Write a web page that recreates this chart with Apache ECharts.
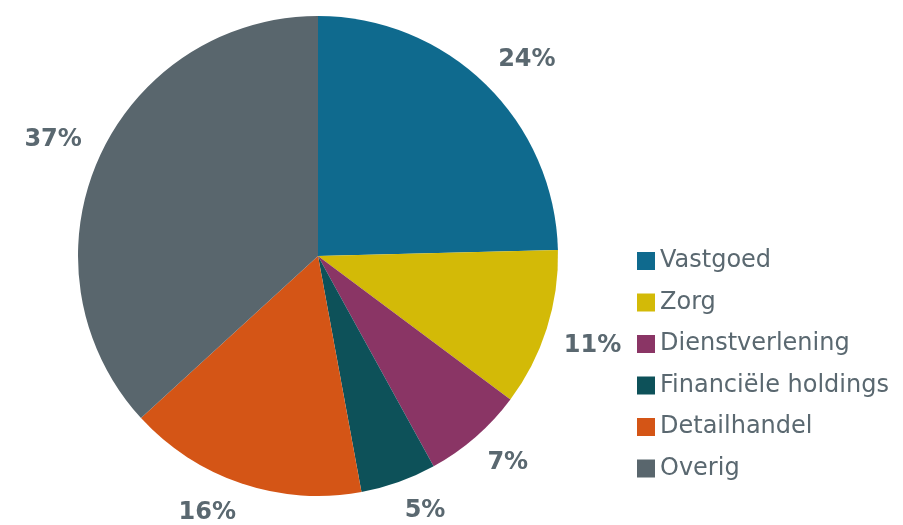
<!DOCTYPE html>
<html>
<head>
<meta charset="utf-8">
<script src="https://cdn.jsdelivr.net/npm/echarts@6/dist/echarts.min.js"></script>
<style>
  html, body { margin: 0; padding: 0; background: #fff; }
  #chart { width: 903px; height: 525px; }
</style>
</head>
<body>
<div id="chart"></div>
<script>
const sectors = ['Vastgoed', 'Zorg', 'Dienstverlening', 'Financiële holdings', 'Detailhandel', 'Overig'];
const shares = [24.6, 10.6, 6.8, 5.1, 16.1, 36.8];
// labels zoals op de grafiek
const pctLabels = ['24%', '11%', '7%', '5%', '16%', '37%'];
const sectorColors = ['#0f6a8e', '#d3ba07', '#8a3565', '#0d5159', '#d45516', '#59666d'];

const textColor = '#5a6870';
const pieCenter = [318, 256];
const pieRadius = 240;
const labelGap = 18;

// middenhoek van elk stuk (radialen, vanaf boven met de klok mee)
const total = shares.reduce((a, b) => a + b, 0);
let acc = 0;
const midAngles = shares.map(v => {
    const a = (acc + v / 2) / total * 2 * Math.PI;
    acc += v;
    return a;
});

var chart = echarts.init(document.getElementById('chart'));

chart.setOption({
    animation: false,
    color: sectorColors,
    legend: {
        orient: 'vertical',
        left: 632,
        top: 244,
        icon: 'rect',
        itemWidth: 18,
        itemHeight: 18,
        itemGap: 17.5,
        textStyle: {
            fontFamily: 'DejaVu Sans',
            fontSize: 24,
            lineHeight: 24,
            color: textColor
        },
        data: sectors
    },
    series: [{
        type: 'pie',
        center: pieCenter,
        radius: pieRadius,
        startAngle: 90,
        clockwise: true,
        avoidLabelOverlap: false,
        label: {
            show: true,
            position: 'outside',
            formatter: p => pctLabels[p.dataIndex],
            fontFamily: 'DejaVu Sans',
            fontWeight: 'bold',
            fontSize: 24,
            color: textColor
        },
        labelLine: { show: false },
        // label buiten de rand, hoek van het kader op de bissectrice
        labelLayout: function (params) {
            const a = midAngles[params.dataIndex];
            const ux = Math.sin(a), uy = -Math.cos(a);
            const w = params.labelRect.width, h = params.labelRect.height;
            const r = pieRadius + labelGap;
            return {
                x: pieCenter[0] + r * ux + Math.sign(ux) * w / 2,
                y: pieCenter[1] + r * uy + Math.sign(uy) * h / 2,
                align: 'center',
                verticalAlign: 'middle'
            };
        },
        emphasis: { disabled: true },
        data: sectors.map((name, i) => ({ name: name, value: shares[i] }))
    }]
});
</script>
</body>
</html>
